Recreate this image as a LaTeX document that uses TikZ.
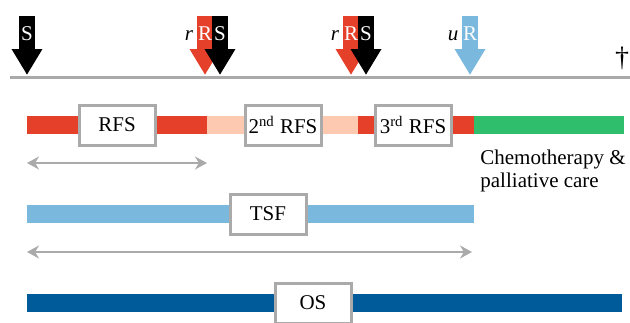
\documentclass[tikz,border=0pt]{standalone}
\usepackage{fontspec}
\setmainfont{Liberation Serif}
\usetikzlibrary{arrows.meta}
\usepackage{xcolor}
\definecolor{tred}{RGB}{229, 64, 42}
\definecolor{tsalmon}{RGB}{253, 202, 177}
\definecolor{tgreen}{RGB}{46, 190, 108}
\definecolor{tlblue}{RGB}{122, 185, 221}
\definecolor{tdblue}{RGB}{0, 91, 154}
\definecolor{tgray}{RGB}{170, 170, 170}

\begin{document}
\begin{tikzpicture}[x=0.5pt, y=-0.5pt,
  txt/.style={font=\fontsize{10.5}{11.5}\selectfont},
  box/.style={rectangle, draw=tgray, fill=white, line width=1.5pt,
              minimum width=38pt, minimum height=20pt, inner sep=0pt,
              txt},
  evt/.style={line width=8pt, -{Triangle[length=13pt, width=14.5pt]}},
  evtl/.style={text=white, inner sep=0pt, txt},
  pre/.style={inner sep=0pt, font=\fontsize{10.5}{11.5}\selectfont\itshape},
  span/.style={{Stealth[length=6pt, width=6.5pt]}-{Stealth[length=6pt, width=6.5pt]},
               line width=1.2pt, tgray}
]
\useasboundingbox (0,0) rectangle (630,322);

% time axis
\coordinate (ax0) at (10,77);
\coordinate (ax1) at (630,77);
\draw[tgray, line width=1.5pt] (ax0) -- (ax1);

% events
\draw[evt, black]  (27,16)  -- (27,75);
\draw[evt, tred]   (205,16) -- (205,75);
\draw[evt, black]  (220,16) -- (220,75);
\draw[evt, tred]   (351,16) -- (351,75);
\draw[evt, black]  (366,16) -- (366,75);
\draw[evt, tlblue] (470,16) -- (470,75);

\node[evtl] (e1) at (27,34)  {S};
\node[evtl] (e2) at (205,34) {R};
\node[evtl] (e3) at (220,34) {S};
\node[evtl] (e4) at (351,34) {R};
\node[evtl] (e5) at (366,34) {S};
\node[evtl] (e6) at (470,34) {R};
\node[pre, anchor=base] (p2) at (189,40) {r};
\node[pre, anchor=base] (p4) at (335,40) {r};
\node[pre, anchor=base] (p6) at (453,40) {u};
\node[inner sep=0pt, font=\fontsize{14}{14}\selectfont] (death) at (622,58) {\textdagger};

% recurrence-free survival
\fill[tred]    (27,116)  rectangle (207,134);
\fill[tsalmon] (207,116) rectangle (358,134);
\fill[tred]    (358,116) rectangle (474,134);
\fill[tgreen]  (474,116) rectangle (624,134);
\node[box] (rfs1) at (117,125) {RFS};
\node[box] (rfs2) at (283,125) {2\textsuperscript{nd} RFS};
\node[box] (rfs3) at (413,125) {3\textsuperscript{rd} RFS};
\node[txt, anchor=north west, align=left, inner sep=0pt] (chemo) at (480,150)
  {Chemotherapy \&\\palliative care};

\coordinate (rfsL) at (27,163);
\coordinate (rfsR) at (207,163);
\draw[span] (rfsL) -- (rfsR);

% treatment-free survival
\fill[tlblue] (27,205) rectangle (474,223);
\node[box] (tsf) at (268,214) {TSF};

\coordinate (tsfL) at (27,252);
\coordinate (tsfR) at (472,252);
\draw[span] (tsfL) -- (tsfR);

% overall survival
\fill[tdblue] (27,294) rectangle (622,312);
\node[box] (os) at (313,303) {OS};

\end{tikzpicture}
\end{document}
